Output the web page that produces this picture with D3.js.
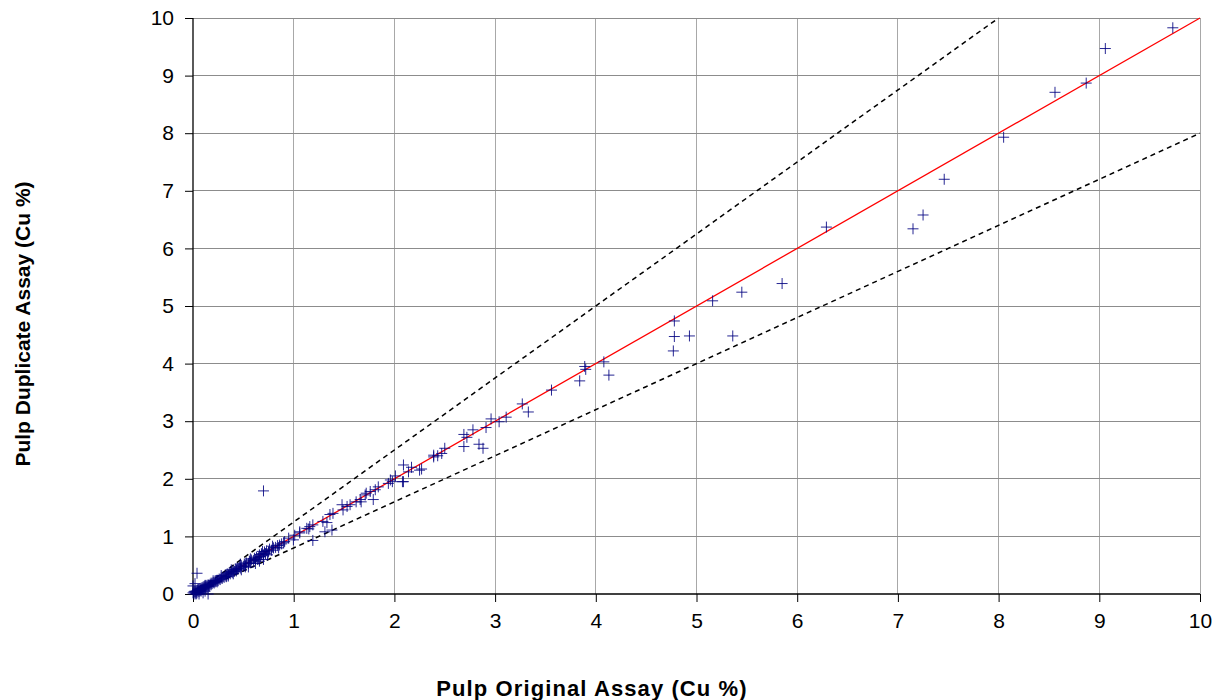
<!DOCTYPE html>
<html><head><meta charset="utf-8">
<script src="https://cdn.jsdelivr.net/npm/d3@7"></script>
<style>body{margin:0;background:#fff}svg{display:block}</style>
</head><body><svg id="c" width="1221" height="700"></svg>
<script>
const xTicks = [0,1,2,3,4,5,6,7,8,9,10];
const yTicks = [0,1,2,3,4,5,6,7,8,9,10];
const xTitle = "Pulp Original Assay (Cu %)";
const yTitle = "Pulp Duplicate Assay (Cu %)";
// reference lines: slope of y = k*x
const refSlopes = [1.25, 1.0, 0.8];
// data: original assay
const origAssay = [
0.00,0.01,0.02,0.02,0.03,0.03,0.04,0.04,0.05,0.05,0.06,0.06,0.07,0.07,0.08,0.08,0.09,0.09,0.10,0.10,
0.11,0.11,0.12,0.12,0.13,0.13,0.14,0.15,0.15,0.16,0.17,0.18,0.18,0.19,0.20,0.21,0.22,0.22,0.23,0.24,
0.25,0.26,0.27,0.28,0.29,0.30,0.31,0.32,0.33,0.34,0.35,0.36,0.37,0.38,0.39,0.40,0.41,0.42,0.43,0.44,
0.45,0.46,0.47,0.48,0.50,0.51,0.52,0.53,0.55,0.56,0.57,0.58,0.60,0.61,0.62,0.63,0.65,0.66,0.67,0.68,
0.70,0.71,0.72,0.73,0.75,0.76,0.78,0.80,0.82,0.84,0.86,0.88,0.90,0.62,0.66,0.70,0.55,0.48,0.40,0.35,
0.04,0.00,0.15,0.02,0.10,0.06,0.12,0.70,
0.01,0.03,0.05,0.08,0.12,0.16,0.20,0.24,0.28,0.33,0.38,0.43,0.47,0.52,0.57,0.64,0.69,0.74,0.79,0.85,
0.91,0.95,0.997,1.01,1.06,1.15,1.16,1.19,1.19,1.29,1.31,1.38,1.36,1.39,1.48,1.53,1.56,1.62,1.66,1.79,
1.71,1.76,1.81,1.84,1.94,2.09,1.98,1.96,2.01,2.27,2.25,2.17,2.09,2.14,2.08,1.33,1.49,1.13,1.06,1.67,1.72,
2.39,2.43,2.39,2.47,2.50,2.69,2.72,2.69,2.78,2.84,2.88,2.91,2.96,3.04,3.11,3.27,3.33,3.56,3.84,3.89,3.90,
4.08,4.13,4.77,4.78,4.78,4.93,5.16,5.36,5.45,5.85,6.29,7.15,7.25,7.46,8.05,8.56,8.87,9.06,9.73
];
// data: duplicate assay
const dupAssay = [
0.02,0.00,0.03,0.05,0.01,0.04,0.06,0.02,0.05,0.07,0.04,0.08,0.06,0.09,0.07,0.10,0.08,0.11,0.09,0.12,
0.10,0.13,0.11,0.14,0.12,0.15,0.13,0.14,0.16,0.15,0.17,0.16,0.19,0.18,0.20,0.19,0.21,0.23,0.22,0.24,
0.23,0.26,0.25,0.28,0.27,0.30,0.29,0.33,0.31,0.35,0.33,0.37,0.35,0.39,0.37,0.41,0.39,0.43,0.42,0.45,
0.44,0.47,0.45,0.49,0.48,0.52,0.50,0.54,0.53,0.57,0.55,0.59,0.58,0.62,0.60,0.64,0.63,0.68,0.65,0.70,
0.68,0.73,0.70,0.75,0.73,0.78,0.76,0.80,0.81,0.84,0.85,0.87,0.89,0.53,0.57,0.60,0.47,0.42,0.35,0.31,
0.36,0.14,0.00,0.18,0.02,0.00,0.05,1.79,
0.04,0.00,0.08,0.05,0.15,0.13,0.23,0.21,0.32,0.30,0.42,0.40,0.52,0.47,0.61,0.60,0.74,0.68,0.83,0.80,
0.91,0.97,0.94,1.02,1.08,1.13,1.17,1.20,0.93,1.26,1.08,1.11,1.38,1.40,1.55,1.52,1.55,1.60,1.64,1.64,
1.72,1.78,1.81,1.86,1.92,1.95,1.95,1.98,2.05,2.17,2.15,2.20,2.24,2.12,1.95,1.24,1.46,1.14,1.06,1.60,1.75,
2.41,2.40,2.38,2.44,2.53,2.77,2.72,2.56,2.85,2.60,2.53,2.89,3.04,2.99,3.07,3.30,3.16,3.54,3.70,3.95,3.90,
4.03,3.80,4.22,4.74,4.47,4.48,5.09,4.48,5.24,5.39,6.37,6.34,6.58,7.20,7.93,8.71,8.87,9.47,9.83
];

const svg = d3.select("#c");
const M = {l:193, r:1200, t:18, b:594};
const x = d3.scaleLinear().domain([0,10]).range([M.l, M.r]);
const y = d3.scaleLinear().domain([0,10]).range([M.b, M.t]);

// gridlines
svg.append("g").selectAll("line").data(xTicks.slice(1)).join("line")
  .attr("x1",d=>x(d)).attr("x2",d=>x(d)).attr("y1",y(0)).attr("y2",y(10))
  .attr("stroke","#a8a8a8").attr("stroke-width",1).attr("shape-rendering","crispEdges");
svg.append("g").selectAll("line").data(yTicks.slice(1)).join("line")
  .attr("x1",x(0)).attr("x2",x(10)).attr("y1",d=>y(d)).attr("y2",d=>y(d))
  .attr("stroke","#8c8c8c").attr("stroke-width",1).attr("shape-rendering","crispEdges");

// axes
const fontFam = "'Liberation Sans', Arial, sans-serif";
const xAx = svg.append("g").attr("transform",`translate(0,${y(0)})`)
  .call(d3.axisBottom(x).tickValues(xTicks).tickSize(8).tickPadding(11).tickFormat(d3.format("d")));
const yAx = svg.append("g").attr("transform",`translate(${x(0)},0)`)
  .call(d3.axisLeft(y).tickValues(yTicks).tickSize(8).tickPadding(11).tickFormat(d3.format("d")));
[xAx,yAx].forEach(a=>{
  a.select(".domain").attr("stroke","#000").attr("stroke-width",1.3);
  a.selectAll(".tick line").attr("stroke","#000");
  a.selectAll("text").attr("font-family",fontFam).attr("font-size",21).attr("fill","#000");
});
xAx.select(".domain").attr("d",`M${x(0)},0H${x(10)}`);
yAx.select(".domain").attr("d",`M0,${y(0)}V${y(10)}`);

// reference lines
svg.append("g").selectAll("line").data(refSlopes).join("line")
  .attr("x1",x(0)).attr("y1",y(0))
  .attr("x2",d=>x(Math.min(10,10/d))).attr("y2",d=>y(Math.min(10,10/d)*d))
  .attr("stroke",d=>d===1?"#ff0000":"#000")
  .attr("stroke-width",d=>d===1?1.3:1.5)
  .attr("stroke-dasharray",d=>d===1?null:"5,4");

// points
const pts = origAssay.map((v,i)=>({x:v,y:dupAssay[i]}));
const s = 5.5;
svg.append("g").selectAll("path").data(pts).join("path")
  .attr("d",d=>`M${x(d.x)-s},${y(d.y)}h${2*s}M${x(d.x)},${y(d.y)-s}v${2*s}`)
  .attr("stroke","#000080").attr("stroke-width",1).attr("fill","none").attr("opacity",0.85);

// titles
svg.append("text").attr("x",592).attr("y",696).attr("text-anchor","middle")
  .attr("font-family",fontFam).attr("font-weight","bold").attr("font-size",22)
  .attr("letter-spacing",1.1).text(xTitle);
svg.append("text").attr("transform","translate(30,324) rotate(-90)").attr("text-anchor","middle")
  .attr("font-family",fontFam).attr("font-weight","bold").attr("font-size",21).text(yTitle);
</script></body></html>
